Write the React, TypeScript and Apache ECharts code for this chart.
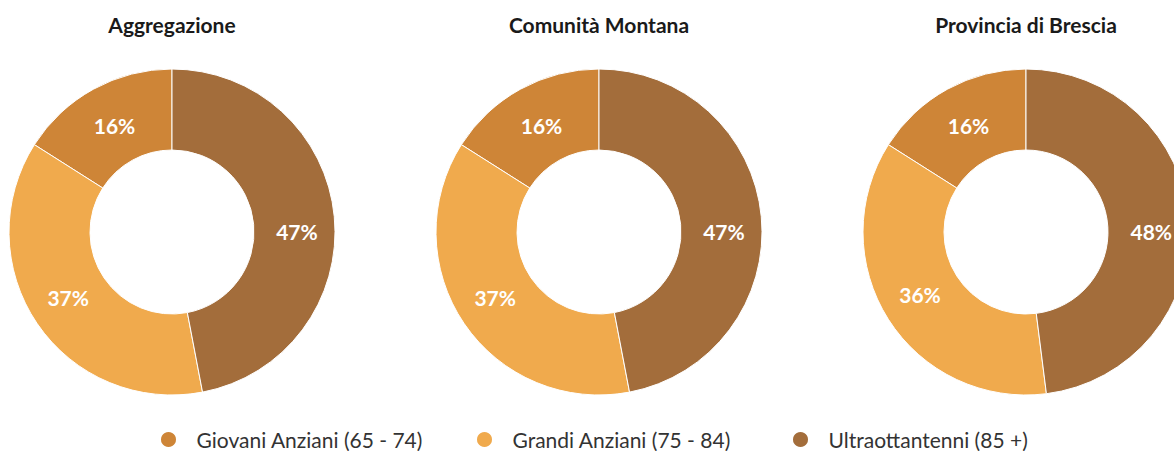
import React, { useEffect, useRef } from "react";
import * as echarts from "echarts";

const categories = ["Giovani Anziani (65 - 74)", "Grandi Anziani (75 - 84)", "Ultraottantenni (85 +)"];
const colors = ["#CE8537", "#F0AA4D", "#A36D3B"];
const groups = ["Aggregazione", "Comunità Montana", "Provincia di Brescia"];
const aggregazione = [16, 37, 47];
const comunitaMontana = [16, 37, 47];
const provinciaBrescia = [16, 36, 48];
const groupValues = [aggregazione, comunitaMontana, provinciaBrescia];

const centersX = [172, 599, 1026];
const centerY = 232;
const legendLeft = [154, 470, 786];

export default function App() {
  const ref = useRef<HTMLDivElement>(null);
  useEffect(() => {
    if (!ref.current) return;
    const chart = echarts.init(ref.current, null, { renderer: "svg" });
    const font = "Lato, 'Noto Sans', sans-serif";
    chart.setOption({
      animation: false,
      color: colors,
      title: groups.map((g, i) => ({
        text: g,
        left: centersX[i],
        top: 14,
        padding: 0,
        textAlign: "center",
        textStyle: { fontFamily: font, fontWeight: "bold", fontSize: 21, color: "#1a1a1a" },
      })),
      legend: categories.map((c, i) => ({
        data: [c],
        left: legendLeft[i],
        top: 424,
        icon: "circle",
        itemWidth: 46,
        itemHeight: 17,
        textStyle: { fontFamily: font, fontSize: 21, color: "#333" },
        selectedMode: false,
      })),
      series: groupValues.map((vals, i) => ({
        type: "pie",
        name: groups[i],
        center: [centersX[i], centerY],
        radius: [82, 163],
        clockwise: false,
        startAngle: 90,
        silent: true,
        itemStyle: { borderColor: "#fff", borderWidth: 1 },
        label: {
          show: true,
          position: "inside",
          formatter: "{c}%",
          color: "#fff",
          fontFamily: font,
          fontWeight: "bold",
          fontSize: 21,
        },
        labelLayout: (p: any) =>
          p.dataIndex === 2
            ? { y: centerY - 0.5 }
            : p.dataIndex === 0
            ? { dx: 3, dy: 3 }
            : { dy: -5 },
        labelLine: { show: false },
        data: categories.map((c, k) => ({ name: c, value: vals[k] })),
      })),
    });
    return () => chart.dispose();
  }, []);
  return (
    <div
      ref={ref}
      style={{ position: "fixed", left: 0, top: 0, width: 1174, height: 451, background: "#fff" }}
    />
  );
}
